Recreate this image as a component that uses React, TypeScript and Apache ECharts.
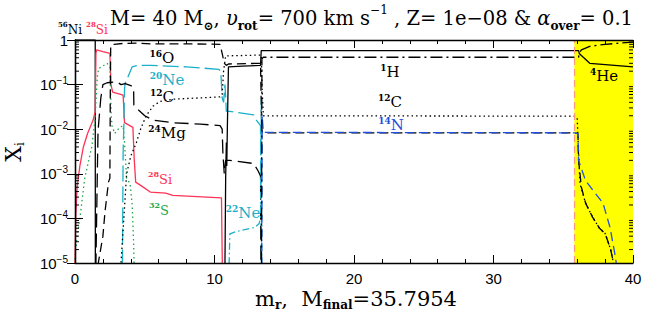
import React, { useEffect, useRef } from "react";
import * as echarts from "echarts";

const M_FINAL = 35.7954;
const X_MIN = 0;
const X_MAX = 40;
const Y_MIN = 1e-5;
const Y_MAX = 1;
const Y_DECADES = [1e-5, 1e-4, 1e-3, 1e-2, 1e-1];
const Y_MINOR_MULT = [2, 3, 4, 5, 6, 7, 8, 9];

// mass coordinate, mass fraction
const ni56 = [[0, 1], [1.45, 1], [1.46, 1e-6]];
const si28 = [[0, 1e-5], [0.05, 1e-4], [0.15, 5e-4], [0.35, 1.5e-3], [0.6, 4e-3], [0.9, 8e-3], [1.3, 0.016], [1.45, 0.025], [1.5, 0.5], [1.55, 0.6], [2.0, 0.55], [2.5, 0.5], [2.58, 0.1], [2.7, 0.068], [3.45, 0.058], [3.55, 0.014], [4.15, 0.011], [4.25, 0.002], [4.35, 6.5e-4], [4.7, 5.5e-4], [5.4, 3.9e-4], [6.5, 3.7e-4], [7.0, 3.3e-4], [10.5, 2.9e-4], [10.6, 1e-6]];
const s32 = [[0, 1.2e-5], [0.15, 4e-5], [0.35, 1e-4], [0.7, 8e-4], [1.2, 4e-3], [1.43, 0.016], [1.6, 0.15], [1.7, 0.23], [2.3, 0.3], [2.5, 0.25], [2.6, 0.02], [2.65, 0.012], [2.85, 0.008], [3.2, 0.011], [3.45, 0.012], [3.55, 0.005], [3.7, 8e-4], [3.95, 6e-4], [4.1, 2e-4], [4.2, 3e-5], [4.3, 1e-6]];
const o16 = [[1.6, 1e-6], [1.67, 1e-5], [2.0, 4e-5], [2.15, 1.4e-4], [2.4, 6.5e-4], [2.5, 8e-4], [2.53, 0.06], [2.56, 0.75], [2.8, 0.8], [3.5, 0.84], [4.5, 0.85], [5.5, 0.82], [8, 0.82], [10.4, 0.8], [10.55, 0.5], [10.7, 0.3], [10.85, 0.27], [11, 0.29], [13.3, 0.3], [13.38, 0.01], [13.45, 0.0083], [35.8, 0.0083], [36.05, 0.008], [36.1, 2e-3], [36.3, 5e-4], [36.6, 2.2e-4], [37.1, 1.07e-4], [37.6, 6e-5], [38.0, 4.6e-5], [38.4, 2e-5], [38.6, 1e-5], [38.65, 1e-6]];
const c12 = [[3.2, 1e-6], [3.3, 1e-5], [3.5, 1e-4], [3.7, 1e-3], [4.0, 2.5e-3], [4.4, 5e-3], [4.7, 0.01], [5.1, 0.02], [5.6, 0.033], [6.1, 0.042], [7, 0.047], [10.4, 0.053], [10.55, 0.06], [10.65, 0.2], [10.8, 0.44], [13.35, 0.46], [13.42, 0.07], [13.5, 0.02], [35.8, 0.0196], [36.0, 0.018], [36.1, 3e-3], [36.2, 6e-4], [36.6, 2.2e-4], [37.1, 1.07e-4], [37.6, 6e-5], [38.0, 4.6e-5], [38.4, 2e-5], [38.6, 1e-5], [38.65, 1e-6]];
const ne20 = [[3.35, 1e-6], [3.4, 1e-5], [3.45, 3e-3], [3.5, 0.012], [3.55, 0.08], [3.6, 0.11], [3.8, 0.15], [4.1, 0.25], [4.5, 0.27], [5.4, 0.27], [8, 0.25], [10.3, 0.22], [10.45, 0.2], [10.55, 0.05], [10.65, 0.04], [10.75, 0.1], [10.85, 0.025], [11.1, 0.025], [12.8, 0.021], [13.0, 0.016], [13.3, 0.012], [13.35, 1e-5], [13.4, 1e-6]];
const mg24 = [[1.48, 1e-6], [1.5, 1e-5], [1.6, 1e-3], [1.65, 0.009], [1.85, 0.05], [2.0, 0.1], [2.3, 0.11], [3.0, 0.115], [3.3, 0.1], [3.6, 0.105], [4.0, 0.095], [4.2, 0.085], [4.22, 0.035], [4.5, 0.028], [5.0, 0.02], [5.6, 0.016], [7, 0.014], [9, 0.013], [10.4, 0.012], [10.55, 0.01], [10.6, 3e-3], [10.7, 1e-3], [10.8, 2e-3], [11.1, 2e-3], [12.8, 1.7e-3], [13.1, 1.2e-3], [13.3, 9e-4], [13.35, 1e-6]];
const ne22 = [[10.9, 1e-6], [11.05, 1e-5], [11.1, 4.5e-5], [11.5, 5e-5], [12.9, 6.3e-5], [13.2, 7.7e-5], [13.3, 1e-4], [13.36, 0.05], [13.4, 1e-6]];
const n14 = [[13.3, 1e-6], [13.38, 1e-5], [13.42, 0.02], [13.5, 0.0085], [35.8, 0.0083], [36.05, 0.008], [36.1, 2e-3], [36.6, 7e-4], [37.2, 4e-4], [37.85, 2.2e-4], [38.35, 6.3e-5], [38.7, 1.6e-5], [38.8, 1e-5], [38.85, 1e-6]];
const he4 = [[10.7, 1e-6], [10.75, 1e-5], [10.8, 8e-4], [10.85, 5e-3], [10.88, 1.5e-3], [10.92, 0.01], [11.0, 0.25], [12, 0.26], [13.3, 0.27], [13.35, 0.58], [35.8, 0.58], [36.1, 0.58], [36.15, 0.5], [36.3, 0.45], [36.9, 0.3], [37.8, 0.285], [40, 0.25]];
const h1 = [[13.36, 1e-6], [13.4, 0.38], [13.5, 0.41], [35.8, 0.41], [36.1, 0.41], [36.15, 0.5], [36.3, 0.6], [36.9, 0.72], [38, 0.8], [40, 0.9]];

const BLACK = "#000000";
const RED = "#ff3355";
const GREEN = "#1fa84a";
const CYAN = "#1ab0c8";
const BLUE = "#1f4de0";
const YELLOW = "#ffff00";
const SERIF = "DejaVu Serif";
const SANS = "Liberation Sans";

const CURVES: { name: string; data: number[][]; color: string; dash: any }[] = [
  { name: "56Ni", data: ni56, color: BLACK, dash: "solid" },
  { name: "28Si", data: si28, color: RED, dash: "solid" },
  { name: "32S", data: s32, color: GREEN, dash: [1.5, 3] },
  { name: "20Ne", data: ne20, color: CYAN, dash: [16, 5] },
  { name: "24Mg", data: mg24, color: BLACK, dash: [14, 6] },
  { name: "12C", data: c12, color: BLACK, dash: [1.5, 3] },
  { name: "16O", data: o16, color: BLACK, dash: [9, 5] },
  { name: "22Ne", data: ne22, color: CYAN, dash: [7, 3, 1.5, 3] },
  { name: "14N", data: n14, color: BLUE, dash: [9, 5] },
  { name: "4He", data: he4, color: BLACK, dash: "solid" },
  { name: "1H", data: h1, color: BLACK, dash: [12, 4, 2, 4] },
];

function isoLabel(mass: string, el: string, color: string, x: number, y: number, size = 15) {
  return {
    type: "text",
    x,
    y,
    z: 50,
    style: {
      text: `{m|${mass}}{e|${el}}`,
      align: "center",
      verticalAlign: "middle",
      rich: {
        m: { fontSize: Math.round(size * 0.62), fontWeight: "bold", fill: color, fontFamily: SERIF, lineHeight: 10, verticalAlign: "top" },
        e: { fontSize: size, fill: color, fontFamily: SERIF, lineHeight: 18 },
      },
    },
  };
}

export default function App() {
  const ref = useRef<HTMLDivElement>(null);
  useEffect(() => {
    if (!ref.current) return;
    const chart = echarts.init(ref.current, undefined, { renderer: "svg" });
    const yMinor: number[][] = [];
    Y_DECADES.forEach((d) => Y_MINOR_MULT.forEach((k) => yMinor.push([0, k * d])));

    const axisCommon = {
      z: 10,
      axisLine: { show: true, lineStyle: { color: BLACK, width: 1.3 } },
      axisTick: { show: true, inside: true, length: 8, lineStyle: { color: BLACK, width: 1 } },
      splitLine: { show: false },
    };

    const option: any = {
      animation: false,
      grid: { left: 75, right: 21, top: 40, bottom: 58 },
      xAxis: [
        {
          ...axisCommon,
          type: "value",
          min: X_MIN,
          max: X_MAX,
          interval: 10,
          position: "bottom",
          minorTick: { show: true, splitNumber: 5, length: 4, lineStyle: { color: BLACK, width: 1 } },
          axisLabel: { show: true, margin: 8, color: BLACK, fontSize: 15, fontFamily: SANS },
        },
        {
          ...axisCommon,
          type: "value",
          min: X_MIN,
          max: X_MAX,
          interval: 10,
          position: "top",
          minorTick: { show: true, splitNumber: 5, length: 4, lineStyle: { color: BLACK, width: 1 } },
          axisLabel: { show: false },
        },
      ],
      yAxis: [
        {
          ...axisCommon,
          type: "log",
          min: Y_MIN,
          max: Y_MAX,
          position: "left",
          axisLabel: {
            show: true,
            margin: 7,
            formatter: (v: number) => {
              const e = Math.round(Math.log10(v));
              return e === 0 ? "{b|1}" : `{b|10}{s|−${-e}}`;
            },
            rich: {
              b: { fontSize: 15, lineHeight: 18, fontFamily: SANS, color: BLACK },
              s: { fontSize: 10, lineHeight: 10, verticalAlign: "top", fontFamily: SANS, color: BLACK },
            },
          },
        },
        {
          ...axisCommon,
          type: "log",
          min: Y_MIN,
          max: Y_MAX,
          position: "right",
          axisLabel: { show: false },
        },
      ],
      graphic: [
        {
          type: "text",
          left: 110,
          top: 4,
          z: 50,
          style: {
            text: "{n|M= 40 M}{sub|⊙}{n|, }{it|υ}{sub|rot}{n|= 700 km s}{sup|−1}{n| , Z= 1e−08 & }{it|α}{sub|over}{n|= 0.1}",
            rich: {
              n: { fontSize: 19.5, fontFamily: SERIF, fill: BLACK, lineHeight: 28 },
              it: { fontSize: 19.5, fontFamily: SERIF, fontStyle: "italic", fill: BLACK, lineHeight: 28 },
              sub: { fontSize: 12, fontFamily: SERIF, fontWeight: "bold", fill: BLACK, lineHeight: 12, verticalAlign: "bottom" },
              sup: { fontSize: 12, fontFamily: SERIF, fill: BLACK, lineHeight: 13, verticalAlign: "top" },
            },
          },
        },
        isoLabel("56", "Ni", BLACK, 70, 30, 12),
        isoLabel("28", "Si", RED, 97, 30, 12),
        isoLabel("16", "O", BLACK, 162, 58),
        isoLabel("20", "Ne", CYAN, 167, 80),
        isoLabel("12", "C", BLACK, 162, 97),
        isoLabel("24", "Mg", BLACK, 167, 133),
        isoLabel("28", "Si", RED, 160, 179, 13),
        isoLabel("32", "S", GREEN, 159, 210, 13),
        isoLabel("22", "Ne", CYAN, 243, 213),
        isoLabel("1", "H", BLACK, 390, 72),
        isoLabel("12", "C", BLACK, 390, 102),
        isoLabel("14", "N", BLUE, 391, 125),
        isoLabel("4", "He", BLACK, 604, 76),
        {
          type: "text",
          left: 255,
          top: 288,
          z: 50,
          style: {
            text: "{n|m}{sub|r}{n|,  M}{sub|final}{n|=35.7954}",
            rich: {
              n: { fontSize: 21, fontFamily: SERIF, fill: BLACK, lineHeight: 24 },
              sub: { fontSize: 12, fontFamily: SERIF, fontWeight: "bold", fill: BLACK, lineHeight: 10, verticalAlign: "bottom" },
            },
          },
        },
        {
          type: "text",
          x: 13,
          y: 152,
          rotation: Math.PI / 2,
          z: 50,
          style: {
            text: "{n|X}{sub|i}",
            align: "center",
            verticalAlign: "middle",
            rich: {
              n: { fontSize: 22, fontFamily: SERIF, fill: BLACK, lineHeight: 26 },
              sub: { fontSize: 12, fontFamily: SERIF, fill: BLACK, lineHeight: 12, verticalAlign: "bottom" },
            },
          },
        },
      ],
      series: [
        {
          type: "line",
          name: "final",
          data: [],
          z: 1,
          silent: true,
          markArea: {
            silent: true,
            itemStyle: { color: YELLOW, opacity: 1 },
            data: [[{ xAxis: M_FINAL }, { xAxis: X_MAX }]],
          },
          markLine: {
            silent: true,
            symbol: "none",
            label: { show: false },
            lineStyle: { color: "#ff9a7a", type: [7, 4], width: 1.2 },
            data: [{ xAxis: M_FINAL }],
          },
        },
        ...CURVES.map((c) => ({
          type: "line",
          name: c.name,
          data: c.data,
          z: 3,
          showSymbol: false,
          symbol: "none",
          silent: true,
          clip: true,
          lineStyle: { color: c.color, width: 1.3, type: c.dash },
        })),
        {
          type: "custom",
          name: "minorTicks",
          data: yMinor,
          z: 20,
          silent: true,
          clip: false,
          renderItem: (params: any, api: any) => {
            const cs = params.coordSys;
            const y = api.coord([0, api.value(1)])[1];
            return {
              type: "group",
              children: [
                { type: "line", shape: { x1: cs.x, y1: y, x2: cs.x + 4, y2: y }, style: { stroke: BLACK, lineWidth: 1 } },
                { type: "line", shape: { x1: cs.x + cs.width - 4, y1: y, x2: cs.x + cs.width, y2: y }, style: { stroke: BLACK, lineWidth: 1 } },
              ],
            };
          },
        },
      ],
    };
    chart.setOption(option);
    return () => chart.dispose();
  }, []);
  return <div ref={ref} style={{ position: "fixed", left: 0, top: 0, width: 654, height: 321, background: "#fff" }} />;
}
